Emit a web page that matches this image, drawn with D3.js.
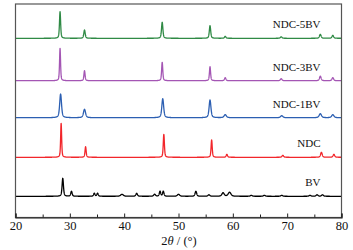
<!DOCTYPE html>
<html><head><meta charset="utf-8">
<script src="https://cdn.jsdelivr.net/npm/d3@7"></script>
<style>body{margin:0;background:#fff}svg{display:block}text{font-family:"Liberation Serif","Times New Roman",serif}</style>
</head><body><svg id="c" width="353" height="250"></svg>
<script>
// Series names, vertical offsets and peak lists [2θ, intensity, FWHM]
const seriesNames = ["BV", "NDC", "NDC-1BV", "NDC-3BV", "NDC-5BV"];
const seriesColors = ["#000000", "#f2262b", "#2c5fb2", "#a456b4", "#2f8a45"];
const seriesOffsets = [21.2, 60.2, 99.8, 136.8, 179.2];
const peaksBV = [[28.7,18,.3],[30.3,5,.3],[34.5,3,.3],[35.1,3,.3],[39.6,2,.6],[42.3,3,.35],[45.6,2,.4],[46.6,5,.3],[47.2,5,.3],[50.0,2,.5],[53.2,5,.35],[55.6,1.5,.4],[58.2,3.5,.5],[59.4,4,.6],[63.4,1,.4],[65.8,1,.4],[69.0,1,.4],[74.2,1,.4],[75.5,1.5,.4],[76.5,1.5,.4]];
const peaksNDC = [[28.4,34,.22],[32.9,10.6,.25],[47.3,23,.25],[56.1,17.3,.25],[58.9,3,.3],[69.2,2,.35],[76.3,5,.35],[78.6,3,.35]];
const peaks1BV = [[28.3,23.7,.4],[32.7,8.4,.45],[47.1,19,.4],[55.8,17.7,.4],[58.6,3,.5],[69.0,2,.5],[76.1,4,.5],[78.4,3,.5]];
const peaks3BV = [[28.2,32.4,.22],[32.7,10,.25],[47.0,18.4,.25],[55.8,14,.25],[58.6,3,.3],[68.9,2,.35],[76.1,4.5,.35],[78.4,3,.35]];
const peaks5BV = [[28.2,26.6,.25],[32.7,8.3,.3],[47.0,16,.3],[55.8,12.6,.3],[58.6,2,.3],[68.9,1.5,.35],[76.1,4,.35],[78.4,3,.35]];
const seriesPeaks = [peaksBV, peaksNDC, peaks1BV, peaks3BV, peaks5BV];
const xTicks = [20, 30, 40, 50, 60, 70, 80];
const xMinorTicks = [25, 35, 45, 55, 65, 75];

const svg = d3.select("#c");
const L = 15.5, R = 341.5, T = 4, B = 217.5;
const x = d3.scaleLinear().domain([20, 80]).range([L, R]);
const y = d3.scaleLinear().domain([0, 213.5]).range([B, T]);

function profile(peaks, x0) {
  let s = 0;
  for (const [p, h, w] of peaks) {
    const d = (x0 - p) / (w / 2);
    s += h * (0.5 / (1 + d * d) + 0.5 * Math.exp(-Math.LN2 * d * d));
  }
  return s;
}
const grid = d3.range(20, 80.0001, 0.02);
const line = d3.line().x(d => x(d[0])).y(d => y(d[1]));

seriesNames.forEach((name, i) => {
  const pts = grid.map(g => [g, seriesOffsets[i] + profile(seriesPeaks[i], g)]);
  svg.append("path").attr("d", line(pts)).attr("fill", "none")
    .attr("stroke", seriesColors[i]).attr("stroke-width", 1.3).attr("stroke-linejoin", "round");
  svg.append("text").attr("x", 320.5).attr("y", y(seriesOffsets[i]) - 10)
    .attr("text-anchor", "end").attr("font-size", 11).attr("fill", "#111").text(name);
});

// frame
svg.append("rect").attr("x", L).attr("y", T).attr("width", R - L).attr("height", B - T)
  .attr("fill", "none").attr("stroke", "#555").attr("stroke-width", 1.2);

// x axis
const ax = svg.append("g").attr("transform", `translate(0,${B})`)
  .call(d3.axisBottom(x).tickValues(xTicks).tickSize(-4).tickPadding(4).tickFormat(d3.format("d")));
ax.select(".domain").attr("stroke", "#222").attr("stroke-width", 1.2);
ax.selectAll(".tick line").attr("stroke", "#222");
ax.selectAll("text").attr("font-size", 12.5).attr("fill", "#111").attr("font-family", "Liberation Serif, serif");
const axm = svg.append("g").attr("transform", `translate(0,${B})`)
  .call(d3.axisBottom(x).tickValues(xMinorTicks).tickSize(-3).tickFormat(""));
axm.select(".domain").remove();
axm.selectAll(".tick line").attr("stroke", "#222");

const lab = svg.append("text").attr("x", (L + R) / 2 + 0.5).attr("y", 245).attr("text-anchor", "middle")
  .attr("font-size", 12.5).attr("fill", "#111");
lab.append("tspan").text("2");
lab.append("tspan").attr("font-style", "italic").text("θ");
lab.append("tspan").text(" / (°)");
</script></body></html>
